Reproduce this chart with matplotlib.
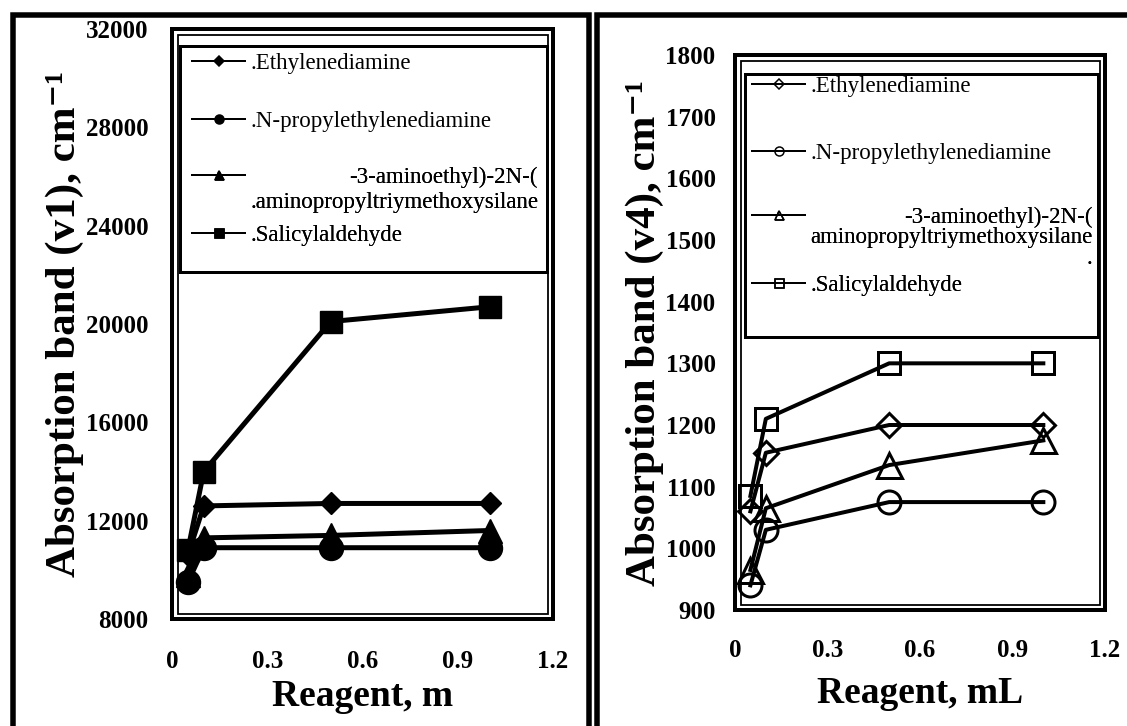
import matplotlib
matplotlib.use('Agg')
import matplotlib.pyplot as plt
from matplotlib.lines import Line2D
from matplotlib.patches import Rectangle

# ---------------- data ----------------
reagent_m = [0.05, 0.1, 0.5, 1.0]
reagent_ml = [0.05, 0.1, 0.5, 1.0]

v1_ethylenediamine = [10600, 12600, 12700, 12700]
v1_npropylethylenediamine = [9500, 10900, 10900, 10900]
v1_aminosilane = [9800, 11300, 11400, 11600]
v1_salicylaldehyde = [10800, 14000, 20100, 20700]

v4_ethylenediamine = [1060, 1155, 1200, 1200]
v4_npropylethylenediamine = [940, 1030, 1075, 1075]
v4_aminosilane = [965, 1065, 1135, 1175]
v4_salicylaldehyde = [1085, 1210, 1300, 1300]

labels_left = ['.Ethylenediamine', '.N-propylethylenediamine',
               '-3-aminoethyl)-2N-(\n.aminopropyltriymethoxysilane',
               '.Salicylaldehyde']
labels_right = ['.Ethylenediamine', '.N-propylethylenediamine',
                '-3-aminoethyl)-2N-(\naminopropyltriymethoxysilane\n.',
                '.Salicylaldehyde']
markers = ['D', 'o', '^', 's']

x_ticks = [0, 0.3, 0.6, 0.9, 1.2]
x_tick_labels = ['0', '0.3', '0.6', '0.9', '1.2']
v1_ticks = [8000, 12000, 16000, 20000, 24000, 28000, 32000]
v4_ticks = [900, 1000, 1100, 1200, 1300, 1400, 1500, 1600, 1700, 1800]

ylabel_left = 'Absorption band (v1), cm\u207b\u00b9'
ylabel_right = 'Absorption band (v4), cm\u207b\u00b9'
xlabel_left = 'Reagent, m'
xlabel_right = 'Reagent, mL'

# ---------------- layout helpers ----------------
W, H = 1127, 726
PT = 0.72  # points per pixel at dpi 100
SERIF = ['Liberation Serif', 'DejaVu Serif']
plt.rcParams['font.family'] = SERIF
LEG_FS = 16.5

fig = plt.figure(figsize=(W / 100, H / 100), dpi=100)


def add_ax(x0, y0, x1, y1):
    return fig.add_axes([x0 / W, 1 - y1 / H, (x1 - x0) / W, (y1 - y0) / H])


def fig_xy(x, y):
    return (x / W, 1 - y / H)


# outer panel frames
for (x0, y0, x1, y1) in [(12.5, 14.5, 588.5, 760), (596.5, 14.5, 1200, 760)]:
    fx0, fy1 = fig_xy(x0, y0)
    fx1, fy0 = fig_xy(x1, y1)
    fig.patches.append(Rectangle((fx0, fy0), fx1 - fx0, fy1 - fy0,
                                 transform=fig.transFigure, fill=False,
                                 lw=5.5 * PT, ec='black', clip_on=False))


def style_axes(ax, xpix, ypix, ylim, yticks, ylabel, xlabel,
               ylab_x, xlab_y, ytick_pad, xtick_pad):
    ax.set_xlim(0, 1.2)
    ax.set_ylim(*ylim)
    ax.set_xticks(x_ticks)
    ax.set_xticklabels(x_tick_labels)
    ax.set_yticks(yticks)
    ax.tick_params(axis='both', length=0, labelsize=18)
    ax.tick_params(axis='y', pad=ytick_pad)
    ax.tick_params(axis='x', pad=xtick_pad)
    for lab in ax.get_xticklabels() + ax.get_yticklabels():
        lab.set_fontweight('bold')
    for sp in ax.spines.values():
        sp.set_linewidth(4 * PT)
    # inner thin line of the double border
    dx, dy = 5.5 / xpix, 5.5 / ypix
    ax.add_patch(Rectangle((dx, dy), 1 - 2 * dx, 1 - 2 * dy,
                           transform=ax.transAxes, fill=False,
                           lw=1.8 * PT, ec='black', clip_on=False, zorder=1))
    ax.set_ylabel(ylabel, fontsize=31, fontweight='bold')
    ax.set_xlabel(xlabel, fontsize=27, fontweight='bold')
    ax.yaxis.set_label_coords(ylab_x, 0.5)
    ax.xaxis.set_label_coords(0.5, xlab_y)


# ---------------- left panel ----------------
axL = add_ax(172, 29, 553, 619)
left_series = [v1_ethylenediamine, v1_npropylethylenediamine,
               v1_aminosilane, v1_salicylaldehyde]
left_ms = [15.5 * PT, 24 * PT, 24 * PT, 22.5 * PT]
for vals, mk, ms in zip(left_series, markers, left_ms):
    axL.plot(reagent_m, vals, color='black', lw=5 * PT, marker=mk,
             ms=ms, mfc='black', mec='black', zorder=3)
style_axes(axL, 381, 590, (8000, 32000), v1_ticks,
           ylabel_left, xlabel_left,
           (84 - 172) / 381, -(679 - 619) / 590, 17, 22)

# ---------------- right panel ----------------
axR = add_ax(735, 55, 1105, 610)
right_series = [v4_ethylenediamine, v4_npropylethylenediamine,
                v4_aminosilane, v4_salicylaldehyde]
right_ms = [17.5 * PT, 23 * PT, 25 * PT, 23 * PT]
for vals, mk, ms in zip(right_series, markers, right_ms):
    axR.plot(reagent_ml, vals, color='black', lw=4 * PT, marker=mk,
             ms=ms, mfc='none', mec='black', mew=3 * PT, zorder=3)
style_axes(axR, 370, 555, (900, 1800), v4_ticks,
           ylabel_right, xlabel_right,
           (664 - 735) / 370, -(676 - 610) / 555, 14, 21)


# ---------------- legends ----------------
def make_handles(filled):
    hs = []
    for mk in markers:
        ms = 9 * PT if mk != 'D' else 6.5 * PT
        hs.append(Line2D([], [], color='black', lw=2 * PT, marker=mk, ms=ms,
                         mfc='black' if filled else 'none', mec='black',
                         mew=1.5 * PT))
    return hs


def add_legend(ax, handles, labels, idx, anchor_px, spacing, linespacing,
               handle_px):
    fx, fy = fig_xy(*anchor_px)
    leg = ax.legend([handles[i] for i in idx], [labels[i] for i in idx],
                    loc='upper left', bbox_to_anchor=(fx, fy),
                    bbox_transform=fig.transFigure, frameon=False,
                    borderpad=0, borderaxespad=0, labelspacing=spacing,
                    handlelength=handle_px / (LEG_FS / PT),
                    handletextpad=0.22,
                    prop={'family': SERIF, 'size': LEG_FS})
    for t in leg.get_texts():
        t.set_multialignment('right')
        t.set_linespacing(linespacing)
    # keep the handle of a multi-line entry level with its first line
    try:
        for col in leg._legend_handle_box.get_children():
            for row, lab in zip(col.get_children(),
                                [labels[i] for i in idx]):
                if '\n' in lab:
                    row.align = 'top'
    except Exception:
        pass
    ax.add_artist(leg)
    return leg


def legend_frame(x0, y0, x1, y1, lw):
    fx0, fy1 = fig_xy(x0, y0)
    fx1, fy0 = fig_xy(x1, y1)
    fig.patches.append(Rectangle((fx0, fy0), fx1 - fx0, fy1 - fy0,
                                 transform=fig.transFigure, fill=False,
                                 lw=lw * PT, ec='black', zorder=5))


hL = make_handles(True)
add_legend(axL, hL, labels_left, [0, 1], (192, 53), 1.62, 1.24, 53)
add_legend(axL, hL, labels_left, [2, 3], (192, 167), 0.5, 1.24, 53)
legend_frame(180, 46, 547, 272, 3)

hR = make_handles(False)
add_legend(axR, hR, labels_right, [0, 1], (752, 76), 2.0, 1.2, 53)
add_legend(axR, hR, labels_right, [2, 3], (752, 207), 0.26, 0.95, 53)
legend_frame(745, 74, 1098, 337, 3)

fig.savefig('out.png', dpi=100)
